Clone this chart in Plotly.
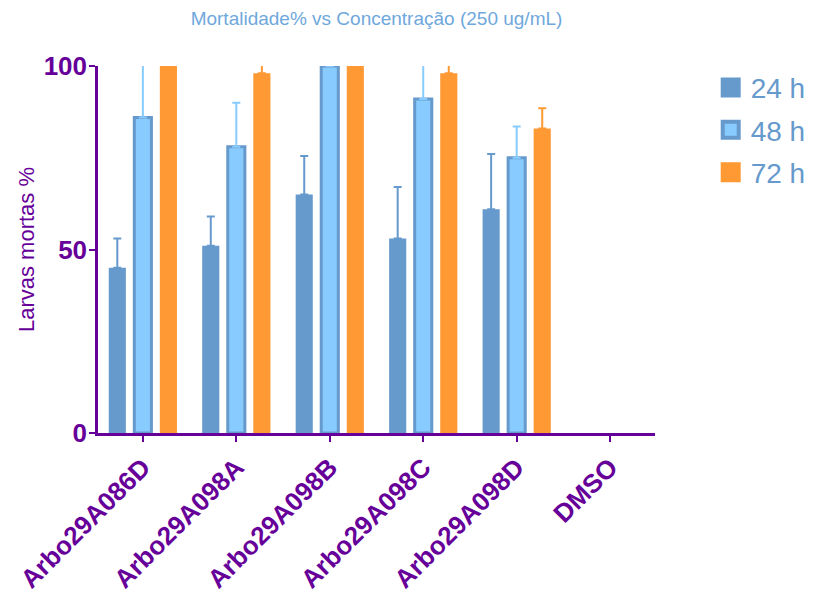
import plotly.graph_objects as go

categories = ["Arbo29A086D", "Arbo29A098A", "Arbo29A098B", "Arbo29A098C", "Arbo29A098D", "DMSO"]
series_names = ["24 h", "48 h", "72 h"]
v24 = [45, 51, 65, 53, 61, 0]
e24 = [8, 8, 10.5, 14, 15, 0]
v48 = [86, 78, 100, 91, 75, 0]
e48 = [16, 12, 0, 12, 8.5, 0]
v72 = [100, 98, 100, 98, 83, 0]
e72 = [0, 2.5, 0, 2.5, 5.5, 0]
y_ticks = [0, 50, 100]

PURPLE = "#660099"
STEEL = "#6699cc"
LIGHT = "#88ccff"
ORANGE = "#ff9933"
FONT = "Liberation Sans, Arial, sans-serif"

fig = go.Figure()

specs = [
    (series_names[0], v24, e24, STEEL, STEEL, 0, STEEL),
    (series_names[1], v48, e48, LIGHT, STEEL, 3, LIGHT),
    (series_names[2], v72, e72, ORANGE, ORANGE, 0, ORANGE),
]
for name, vals, errs, fill, edge, lw, ecol in specs:
    # zero-height bars (and their error caps) are not drawn in the reference
    y_drawn = [v if v > 0 else None for v in vals]
    fig.add_trace(go.Bar(
        x=categories, y=y_drawn, name=name, showlegend=False,
        marker=dict(color=fill, line=dict(color=edge, width=lw)),
        error_y=dict(type="data", array=errs, arrayminus=[0] * len(errs), symmetric=False,
                     color=ecol, thickness=2, width=4),
    ))

for i, (name, vals, errs, fill, edge, lw, ecol) in enumerate(specs):
    fig.add_trace(go.Scatter(
        x=[None], y=[None], mode="markers", name=name, legendgroup=f"g{i}",
        marker=dict(symbol="square", size=16, color=fill,
                    line=dict(color=edge, width=4)),
    ))

fig.update_layout(
    width=805, height=586,
    margin=dict(l=90, r=158, t=58, b=161, autoexpand=False),
    paper_bgcolor="white", plot_bgcolor="white",
    barmode="group", bargap=0.18, bargroupgap=0.33,
    font=dict(family=FONT),
    title=dict(text="Mortalidade% vs Concentração (250 ug/mL)", x=0.5, xref="paper",
               y=0.983, yanchor="middle",
               font=dict(size=19, color="#6fa8dc", family=FONT)),
    legend=dict(x=1.100, y=1.009, xanchor="left", yanchor="top",
                font=dict(size=28, color=STEEL, family=FONT),
                tracegroupgap=3, traceorder="grouped", bgcolor="rgba(0,0,0,0)"),
)

fig.update_xaxes(
    type="category", range=[-0.48, 5.48], automargin=False,
    showline=True, linecolor=PURPLE, linewidth=2.5,
    ticks="outside", tickcolor=PURPLE, ticklen=6, tickwidth=2,
    tickangle=-45, tickfont=dict(size=26, color=PURPLE, family=FONT, weight=700),
    showgrid=False, zeroline=False,
)
fig.update_yaxes(
    range=[0, 100], tickvals=y_ticks, automargin=False,
    showline=True, linecolor=PURPLE, linewidth=2.5,
    ticks="outside", tickcolor=PURPLE, ticklen=6, tickwidth=2,
    ticklabelstandoff=-3,
    tickfont=dict(size=26, color=PURPLE, family=FONT, weight=700),
    title=dict(text="Larvas mortas %", font=dict(size=22, color=PURPLE, family=FONT), standoff=3),
    showgrid=False, zeroline=False,
)

fig.write_html("out.html")
